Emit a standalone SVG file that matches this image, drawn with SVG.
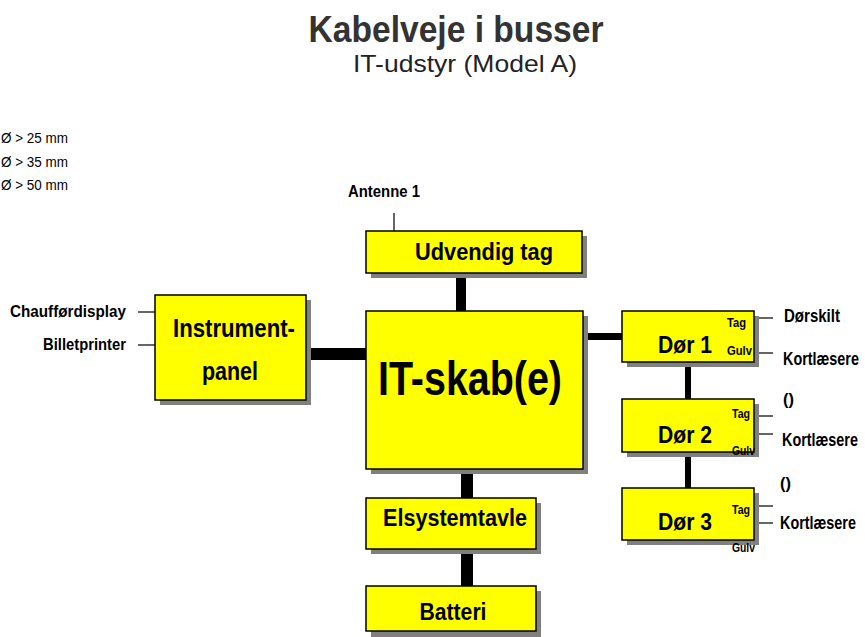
<svg xmlns="http://www.w3.org/2000/svg" width="865" height="637" viewBox="0 0 865 637">
<defs>
<style>
.box{fill:#ffff00;stroke:#000;stroke-width:1.5}
.sh{fill:#808080}
.n{font-family:"Liberation Sans",Arial,sans-serif;font-weight:bold;fill:#000}
.r{font-family:"Liberation Sans",Arial,sans-serif;fill:#000}
.thin{stroke:#000;stroke-width:1.2;fill:none}
.thick{fill:#000}
</style>
</defs>
<rect width="865" height="637" fill="#fff"/>
<g id="title">
<text x="456" y="42" text-anchor="middle" font-family="Liberation Sans,Arial,sans-serif" font-weight="bold" font-size="37" fill="#333" textLength="295" lengthAdjust="spacingAndGlyphs">Kabelveje i busser</text>
<text x="465" y="72" text-anchor="middle" font-family="Liberation Sans,Arial,sans-serif" font-size="24" fill="#222" textLength="224" lengthAdjust="spacingAndGlyphs">IT-udstyr (Model A)</text>
</g>
<g id="legend">
<text class="r" x="1" y="143" font-size="15" textLength="67" lengthAdjust="spacingAndGlyphs">Ø &gt; 25 mm</text>
<text class="r" x="1" y="167" font-size="15" textLength="67" lengthAdjust="spacingAndGlyphs">Ø &gt; 35 mm</text>
<text class="r" x="1" y="190" font-size="15" textLength="67" lengthAdjust="spacingAndGlyphs">Ø &gt; 50 mm</text>
</g>
<g id="connectors">
<rect class="thick" x="456" y="276" width="10" height="36"/>
<rect class="thick" x="305" y="348" width="62" height="12"/>
<rect class="thick" x="580" y="333" width="43" height="7"/>
<rect class="thick" x="461" y="470" width="12" height="29"/>
<rect class="thick" x="461" y="550" width="12" height="37"/>
<rect class="thick" x="685" y="360" width="6" height="41"/>
<rect class="thick" x="685" y="450" width="6" height="39"/>
<line class="thin" x1="394" y1="213" x2="394" y2="231"/>
<line class="thin" x1="138" y1="312" x2="155" y2="312"/>
<line class="thin" x1="138" y1="345" x2="155" y2="345"/>
<line class="thin" x1="754" y1="318" x2="773" y2="318"/>
<line class="thin" x1="754" y1="353" x2="773" y2="353"/>
<line class="thin" x1="754" y1="416" x2="773" y2="416"/>
<line class="thin" x1="754" y1="434" x2="773" y2="434"/>
<line class="thin" x1="754" y1="506" x2="773" y2="506"/>
<line class="thin" x1="754" y1="523" x2="773" y2="523"/>
</g>
<g id="udvendig-tag">
<rect class="sh" x="371" y="236" width="216" height="42"/>
<rect class="box" x="366" y="231" width="216" height="42"/>
<text class="n" x="484" y="260" font-size="23" text-anchor="middle" textLength="138" lengthAdjust="spacingAndGlyphs">Udvendig tag</text>
</g>
<g id="antenne">
<text class="n" x="384" y="197" font-size="17" text-anchor="middle" textLength="72" lengthAdjust="spacingAndGlyphs">Antenne 1</text>
</g>
<g id="instrumentpanel">
<rect class="sh" x="160" y="300" width="151" height="105"/>
<rect class="box" x="155" y="295" width="151" height="105"/>
<text class="n" x="234" y="337" font-size="25" text-anchor="middle" textLength="122" lengthAdjust="spacingAndGlyphs">Instrument-</text>
<text class="n" x="230" y="380" font-size="25" text-anchor="middle" textLength="56" lengthAdjust="spacingAndGlyphs">panel</text>
</g>
<g id="chauffoerdisplay">
<text class="n" x="126" y="317" font-size="17" text-anchor="end" textLength="116" lengthAdjust="spacingAndGlyphs">Chaufførdisplay</text>
</g>
<g id="billetprinter">
<text class="n" x="126" y="350" font-size="17" text-anchor="end" textLength="83" lengthAdjust="spacingAndGlyphs">Billetprinter</text>
</g>
<g id="it-skab">
<rect class="sh" x="371" y="316" width="217" height="158"/>
<rect class="box" x="366" y="311" width="217" height="158"/>
<text class="n" x="470" y="395" font-size="49" text-anchor="middle" textLength="184" lengthAdjust="spacingAndGlyphs">IT-skab(e)</text>
</g>
<g id="elsystemtavle">
<rect class="sh" x="371" y="503" width="170" height="51"/>
<rect class="box" x="366" y="498" width="170" height="51"/>
<text class="n" x="455" y="526" font-size="23" text-anchor="middle" textLength="144" lengthAdjust="spacingAndGlyphs">Elsystemtavle</text>
</g>
<g id="batteri">
<rect class="sh" x="371" y="591" width="170" height="46"/>
<rect class="box" x="366" y="586" width="170" height="45"/>
<text class="n" x="453" y="620" font-size="24" text-anchor="middle" textLength="67" lengthAdjust="spacingAndGlyphs">Batteri</text>
</g>
<g id="doer1">
<rect class="sh" x="627" y="316" width="132" height="51"/>
<rect class="box" x="622" y="311" width="132" height="51"/>
<text class="n" x="685" y="353" font-size="23" text-anchor="middle" textLength="54" lengthAdjust="spacingAndGlyphs">Dør 1</text>
<text class="n" x="746" y="327" font-size="13" text-anchor="end" textLength="19" lengthAdjust="spacingAndGlyphs">Tag</text>
<text class="n" x="752" y="355" font-size="13" text-anchor="end" textLength="25" lengthAdjust="spacingAndGlyphs">Gulv</text>
<text class="n" x="784" y="322" font-size="18" textLength="56" lengthAdjust="spacingAndGlyphs">Dørskilt</text>
<text class="n" transform="translate(783,365) scale(0.8,1)" font-size="18">Kortlæsere</text>
</g>
<g id="doer2">
<rect class="sh" x="627" y="404" width="132" height="53"/>
<rect class="box" x="622" y="399" width="132" height="53"/>
<text class="n" x="685" y="443" font-size="23" text-anchor="middle" textLength="54" lengthAdjust="spacingAndGlyphs">Dør 2</text>
<text class="n" x="750" y="418" font-size="13" text-anchor="end" textLength="18" lengthAdjust="spacingAndGlyphs">Tag</text>
<text class="n" x="755" y="455" font-size="13" text-anchor="end" textLength="23" lengthAdjust="spacingAndGlyphs">Gulv</text>
<text class="n" x="783" y="405" font-size="17" textLength="11" lengthAdjust="spacingAndGlyphs">()</text>
<text class="n" transform="translate(782,446) scale(0.8,1)" font-size="18">Kortlæsere</text>
</g>
<g id="doer3">
<rect class="sh" x="627" y="493" width="132" height="52"/>
<rect class="box" x="622" y="488" width="132" height="52"/>
<text class="n" x="685" y="530" font-size="23" text-anchor="middle" textLength="54" lengthAdjust="spacingAndGlyphs">Dør 3</text>
<text class="n" x="750" y="514" font-size="13" text-anchor="end" textLength="18" lengthAdjust="spacingAndGlyphs">Tag</text>
<text class="n" x="755" y="552" font-size="13" text-anchor="end" textLength="23" lengthAdjust="spacingAndGlyphs">Gulv</text>
<text class="n" x="780" y="489" font-size="17" textLength="11" lengthAdjust="spacingAndGlyphs">()</text>
<text class="n" transform="translate(780,529) scale(0.8,1)" font-size="18">Kortlæsere</text>
</g>
</svg>
